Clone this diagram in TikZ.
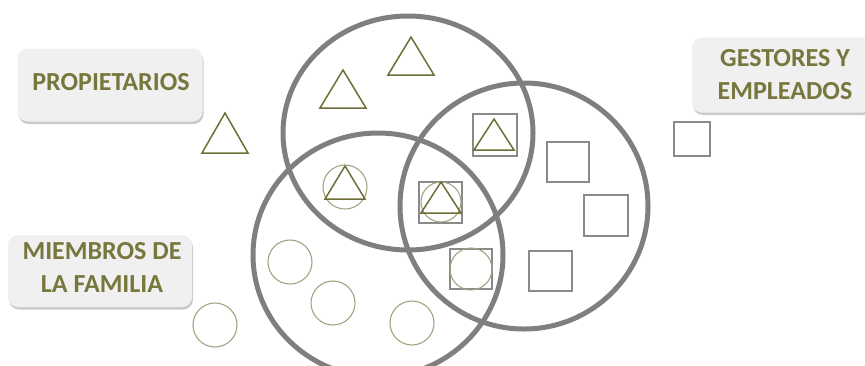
\documentclass[tikz,border=0pt]{standalone}
\usepackage{fontspec}
\setmainfont{Carlito}
\usetikzlibrary{shadows}
\definecolor{olivetxt}{HTML}{77773D}
\definecolor{olivetri}{HTML}{6E6E38}
\definecolor{olivecirc}{HTML}{A3A383}
\definecolor{biggray}{HTML}{7F7F7F}
\definecolor{sqgray}{HTML}{8A8A8A}
\definecolor{boxfill}{HTML}{F0F0F0}
\tikzset{
  bigset/.style={draw=biggray, line width=5pt},
  tristyle/.style={draw=olivetri, line width=1.5pt, line join=miter},
  circstyle/.style={draw=olivecirc, line width=1.1pt},
  sqstyle/.style={draw=sqgray, line width=1.3pt},
  labelbox/.style={rounded corners=10pt, fill=boxfill, draw=none, inner sep=0pt,
    drop shadow={shadow xshift=1pt, shadow yshift=-2.5pt, opacity=0.35, fill=black!60}},
  labeltext/.style={text=olivetxt, font=\bfseries\fontsize{26}{33}\selectfont,
    align=center, inner sep=0pt}
}
\newcommand\mytri[4]{% cx, apex y, base y, half width
  \draw[tristyle] (#1,#2) -- (#1-#4,#3) -- (#1+#4,#3) -- cycle;}
\newcommand\mysq[4]{\draw[sqstyle] (#1,#2) rectangle (#3,#4);}
\begin{document}
\begin{tikzpicture}[x=1pt,y=-1pt]
\useasboundingbox (0,0) rectangle (865,365);
\clip (0,0) rectangle (865,365);
% big sets
\draw[bigset] (408,133) ellipse [x radius=125pt, y radius=117pt];
\draw[bigset] (378,255) ellipse [x radius=125pt, y radius=122pt];
\draw[bigset] (524,206) ellipse [x radius=124pt, y radius=123pt];
% labels
\node[labelbox, minimum width=185pt, minimum height=73pt] (propbox) at (110,85) {};
\node[labeltext] (prop) at (111,82) {PROPIETARIOS};
\node[labelbox, minimum width=180pt, minimum height=75pt] (gestbox) at (782,75) {};
\node[labeltext] (gest) at (785,75) {GESTORES Y\\EMPLEADOS};
\node[labelbox, minimum width=184pt, minimum height=72pt] (fambox) at (100,271) {};
\node[labeltext] (fam) at (102,267) {MIEMBROS DE\\LA FAMILIA};
% owners only
\mytri{411}{37}{75}{23}
\mytri{343}{70}{108}{23}
\mytri{225}{113}{153}{23}
% owner + family
\draw[circstyle] (345,187) circle [radius=22pt];
\mytri{345}{166}{199}{20}
% all three
\mysq{419}{182}{462}{223}
\draw[circstyle] (441,202) circle [radius=20pt];
\mytri{441}{182}{213}{20}
% owner + managers
\mysq{473}{114}{517}{156}
\mytri{494}{119}{150}{20}
% family + managers
\mysq{450}{249}{492}{289}
\draw[circstyle] (471,269) circle [radius=21pt];
% managers only
\mysq{547}{142}{589}{182}
\mysq{584}{195}{628}{236}
\mysq{529}{251}{572}{291}
\mysq{674}{122}{710}{156}
% family only
\draw[circstyle] (290,262) circle [radius=22pt];
\draw[circstyle] (333,303) circle [radius=22pt];
\draw[circstyle] (412,323) circle [radius=22pt];
\draw[circstyle] (215,325) circle [radius=22pt];
\end{tikzpicture}
\end{document}
